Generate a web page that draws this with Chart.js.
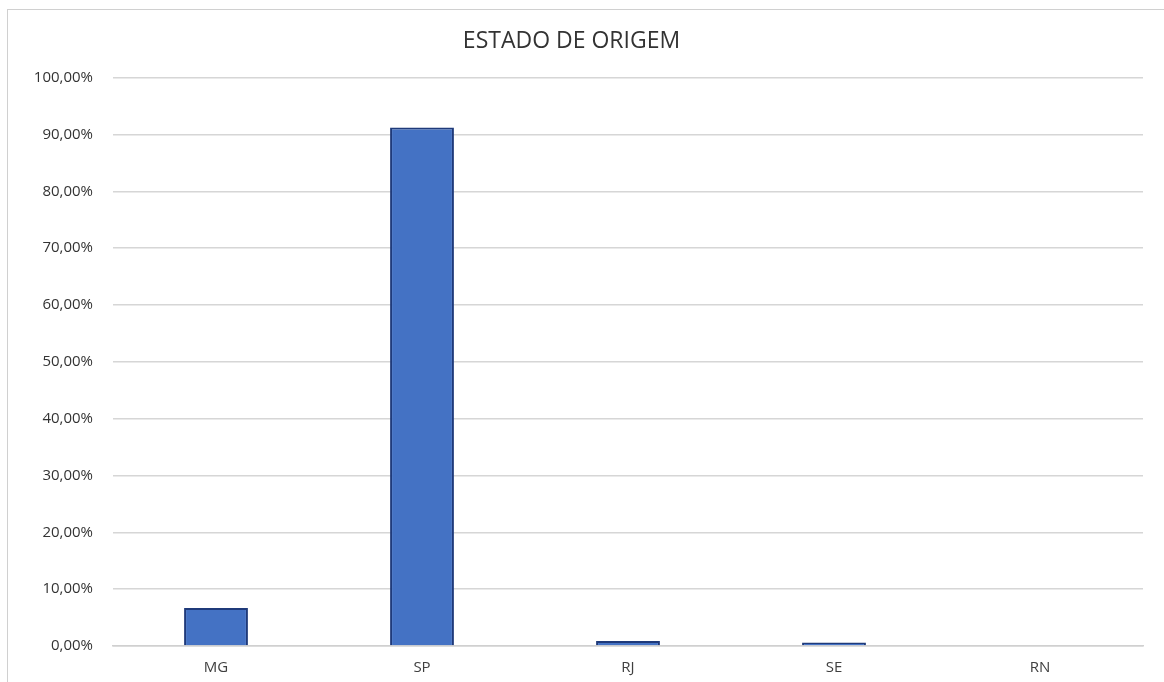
<!DOCTYPE html>
<html>
<head>
<meta charset="utf-8">
<script src="https://cdn.jsdelivr.net/npm/chart.js@4"></script>
<style>
  html, body { margin: 0; padding: 0; background: #fff; }
  #wrap { position: relative; width: 1164px; height: 682px; overflow: hidden; }
  #frame { position: absolute; left: 7px; top: 9px; width: 1200px; height: 700px; border: 1px solid #d0d0d0; box-sizing: border-box; }
  canvas { position: absolute; left: 0; top: 0; }
</style>
</head>
<body>
<div id="wrap">
  <div id="frame"></div>
  <canvas id="myChart" width="1164" height="682"></canvas>
</div>
<script>
const estados = ['MG', 'SP', 'RJ', 'SE', 'RN'];
const percentuais = [6.7, 91.2, 0.9, 0.6, 0];

function fmt(v) {
  return v.toFixed(2).replace('.', ',') + '%';
}

new Chart("myChart", {
  type: "bar",
  data: {
    labels: estados,
    datasets: [{
      data: percentuais,
      backgroundColor: "#4472C4",
      borderColor: "#1F3A7A",
      borderWidth: 2,
      barPercentage: 0.31,
      categoryPercentage: 1
    }]
  },
  options: {
    responsive: false,
    animation: false,
    layout: { padding: { top: 28, right: 21, bottom: 0, left: 0 } },
    plugins: {
      legend: { display: false },
      tooltip: { enabled: false },
      title: {
        display: true,
        text: "ESTADO DE ORIGEM",
        color: "#333333",
        font: { family: "Open Sans", size: 23, weight: "normal" },
        padding: { top: 0, bottom: 22 }
      }
    },
    scales: {
      x: {
        afterFit: function (axis) { axis.height = 36; },
        grid: { display: false, drawTicks: false },
        border: { display: true, color: "#d0d0d0", width: 1.5 },
        ticks: { color: "#404040", font: { family: "Open Sans", size: 15 }, padding: 13 }
      },
      y: {
        min: 0,
        max: 100,
        afterFit: function (axis) { axis.width = 113; },
        grid: { color: "#d6d6d6", lineWidth: 1.5, drawTicks: false },
        border: { display: false },
        ticks: {
          stepSize: 10,
          color: "#333333",
          font: { family: "Open Sans", size: 15 },
          padding: 20,
          callback: function (v) { return fmt(v); }
        }
      }
    }
  }
});
</script>
</body>
</html>
